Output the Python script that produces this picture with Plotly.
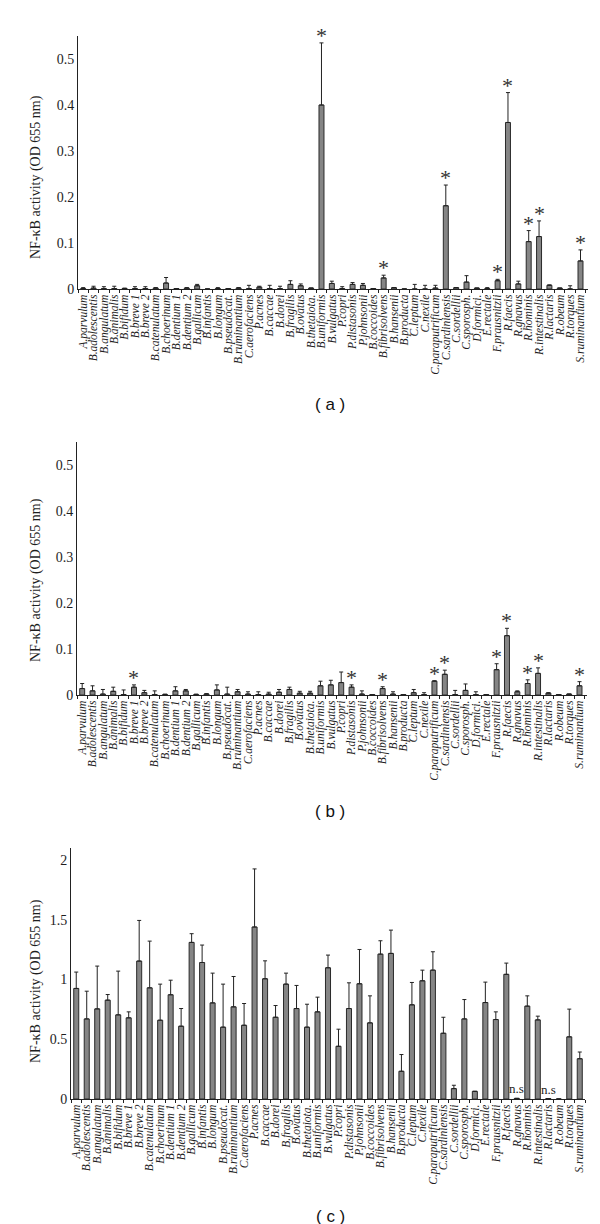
import plotly.graph_objects as go

# ---------------- data ----------------
categories = [
    "A.parvulum", "B.adolescentis", "B.angulatum", "B.animalis", "B.bifidum",
    "B.breve 1", "B.breve 2", "B.catenulatum", "B.choerinum", "B.dentium 1",
    "B.dentium 2", "B.gallicum", "B.infantis", "B.longum", "B.pseudocat.",
    "B.ruminantium", "C.aerofaciens", "P.acnes", "B.caccae", "B.dorei",
    "B.fragilis", "B.ovatus", "B.thetaiota.", "B.uniformis", "B.vulgatus",
    "P.copri", "P.distasonis", "P.johnsonii", "B.coccoides", "B.fibrisolvens",
    "B.hansenii", "B.producta", "C.leptum", "C.nexile", "C.paraputrificum",
    "C.sardiniensis", "C.sordellii", "C.sporosph.", "D.formici.", "E.rectale",
    "F.prausnitzii", "R.faecis", "R.gnavus", "R.hominis", "R.intestinalis",
    "R.lactaris", "R.obeum", "R.torques", "S.ruminantium",
]

a_values = [0.001, 0.002, 0.001, 0.001, 0.001, 0.001, 0.001, 0.002, 0.013, 0.001,
            0.002, 0.007, 0.000, 0.001, 0.001, 0.002, 0.001, 0.004, 0.001, 0.001,
            0.010, 0.007, 0.002, 0.400, 0.012, 0.001, 0.010, 0.008, 0.001, 0.024,
            0.003, 0.000, 0.000, 0.000, 0.002, 0.181, 0.003, 0.015, 0.002, 0.001,
            0.018, 0.362, 0.011, 0.103, 0.114, 0.008, 0.002, 0.000, 0.061]
a_errors = [0.002, 0.004, 0.004, 0.005, 0.001, 0.004, 0.004, 0.001, 0.012, 0.000,
            0.001, 0.003, 0.000, 0.002, 0.000, 0.001, 0.007, 0.002, 0.007, 0.005,
            0.008, 0.004, 0.000, 0.135, 0.005, 0.004, 0.004, 0.004, 0.000, 0.006,
            0.000, 0.000, 0.010, 0.008, 0.006, 0.045, 0.000, 0.014, 0.000, 0.002,
            0.003, 0.065, 0.006, 0.024, 0.034, 0.001, 0.000, 0.007, 0.024]
a_starred = ["B.uniformis", "B.fibrisolvens", "C.sardiniensis", "F.prausnitzii",
             "R.faecis", "R.hominis", "R.intestinalis", "S.ruminantium"]

b_values = [0.014, 0.009, 0.002, 0.008, 0.001, 0.017, 0.005, 0.001, 0.001, 0.009,
            0.009, 0.001, 0.002, 0.011, 0.002, 0.007, 0.002, 0.001, 0.002, 0.006,
            0.012, 0.004, 0.004, 0.020, 0.022, 0.027, 0.017, 0.002, 0.001, 0.014,
            0.002, 0.001, 0.005, 0.001, 0.030, 0.045, 0.001, 0.010, 0.001, 0.001,
            0.055, 0.129, 0.007, 0.025, 0.047, 0.004, 0.001, 0.002, 0.020]
b_errors = [0.011, 0.011, 0.010, 0.009, 0.010, 0.005, 0.005, 0.008, 0.001, 0.009,
            0.003, 0.001, 0.001, 0.011, 0.015, 0.005, 0.005, 0.006, 0.004, 0.006,
            0.005, 0.004, 0.004, 0.010, 0.010, 0.023, 0.005, 0.007, 0.000, 0.004,
            0.005, 0.000, 0.007, 0.004, 0.001, 0.009, 0.009, 0.014, 0.006, 0.000,
            0.013, 0.016, 0.002, 0.008, 0.012, 0.001, 0.000, 0.000, 0.009]
b_starred = ["B.breve 1", "P.distasonis", "B.fibrisolvens", "C.paraputrificum",
             "C.sardiniensis", "F.prausnitzii", "R.faecis", "R.hominis",
             "R.intestinalis", "S.ruminantium"]

c_values = [0.925, 0.670, 0.754, 0.827, 0.704, 0.679, 1.154, 0.930, 0.659, 0.872,
            0.609, 1.310, 1.142, 0.804, 0.601, 0.771, 0.617, 1.439, 1.006, 0.684,
            0.961, 0.757, 0.601, 0.729, 1.098, 0.441, 0.757, 0.964, 0.637, 1.212,
            1.218, 0.232, 0.788, 0.989, 1.078, 0.550, 0.087, 0.670, 0.064, 0.807,
            0.665, 1.043, 0.005, 0.777, 0.662, 0.004, 0.000, 0.520, 0.337]
c_errors = [0.137, 0.232, 0.358, 0.047, 0.366, 0.050, 0.340, 0.391, 0.302, 0.122,
            0.148, 0.073, 0.146, 0.249, 0.360, 0.254, 0.182, 0.486, 0.150, 0.098,
            0.092, 0.193, 0.192, 0.123, 0.106, 0.143, 0.215, 0.287, 0.226, 0.112,
            0.195, 0.140, 0.187, 0.089, 0.154, 0.134, 0.028, 0.162, 0.000, 0.171,
            0.064, 0.094, 0.000, 0.086, 0.031, 0.000, 0.000, 0.232, 0.056]
c_not_significant = ["R.gnavus", "R.lactaris"]

y_title = "NF-\u03baB activity (OD 655 nm)"

# ---------------- layout helpers ----------------
W, H = 600, 1224


def fx(px):
    return px / W


def fy(py):
    return 1 - py / H


BAR_FILL = "#858585"
BAR_LINE = "#2a2a2a"
SERIF = "Liberation Serif"
TEXT = "#1e1e1e"

panels = [
    dict(vals=a_values, errs=a_errors, stars=a_starred, ns=[], ymax=0.55, dtick=0.1,
         x0=70, x1=580, top=28, bottom=281, caption="( a )", cap_y=397, title_y=169),
    dict(vals=b_values, errs=b_errors, stars=b_starred, ns=[], ymax=0.55, dtick=0.1,
         x0=69, x1=579, top=434, bottom=687, caption="( b )", cap_y=803, title_y=572),
    dict(vals=c_values, errs=c_errors, stars=[], ns=c_not_significant, ymax=2.1, dtick=0.5,
         x0=63, x1=577, top=840, bottom=1091, caption="( c )", cap_y=1208, title_y=973),
]

fig = go.Figure()
annotations = []
layout_axes = {}

for i, p in enumerate(panels):
    n = "" if i == 0 else str(i + 1)
    xref = "x" + n
    yref = "y" + n
    fig.add_trace(go.Bar(
        x=categories, y=p["vals"], xaxis=xref, yaxis=yref,
        marker=dict(color=BAR_FILL, line=dict(color=BAR_LINE, width=1)),
        error_y=dict(type="data", symmetric=False, array=p["errs"],
                     arrayminus=[0] * len(p["errs"]), color="#222222",
                     thickness=1, width=2),
        showlegend=False, hoverinfo="x+y",
    ))
    layout_axes["xaxis" + n] = dict(
        domain=[fx(p["x0"]), fx(p["x1"])], anchor=yref,
        type="category", categoryorder="array", categoryarray=categories,
        tickvals=categories, ticktext=["<i>%s</i>" % c for c in categories],
        tickangle=-90, tickfont=dict(family=SERIF, size=11.5, color=TEXT),
        ticks="outside", tickson="boundaries", ticklen=3, tickcolor="#222222",
        showline=True, linecolor="#222222", linewidth=1,
        showgrid=False, zeroline=False, automargin=False, fixedrange=True,
    )
    layout_axes["yaxis" + n] = dict(
        domain=[fy(p["bottom"]), fy(p["top"])], anchor=xref,
        range=[0, p["ymax"]], dtick=p["dtick"], tick0=0,
        tickfont=dict(family=SERIF, size=14, color=TEXT),
        ticks="", showline=True, linecolor="#222222", linewidth=1,
        showgrid=False, zeroline=False, automargin=False, fixedrange=True,
    )
    # y title
    annotations.append(dict(
        text=y_title, textangle=-90, x=fx(28), y=fy(p["title_y"]),
        xref="paper", yref="paper", showarrow=False,
        font=dict(family=SERIF, size=14, color=TEXT),
        xanchor="center", yanchor="middle",
    ))
    # caption
    annotations.append(dict(
        text=p["caption"], x=fx(322), y=fy(p["cap_y"]),
        xref="paper", yref="paper", showarrow=False,
        font=dict(family="Liberation Sans", size=17, color="#111111"),
        xanchor="center", yanchor="middle",
    ))
    # significance stars
    for c in p["stars"]:
        k = categories.index(c)
        annotations.append(dict(
            text="*", x=c, y=p["vals"][k] + p["errs"][k], xref=xref, yref=yref,
            showarrow=False, font=dict(family=SERIF, size=22, color="#333333"),
            xanchor="center", yanchor="bottom", yshift=-7,
        ))
    for c in p["ns"]:
        k = categories.index(c)
        annotations.append(dict(
            text="n.s", x=c, y=p["vals"][k] + p["errs"][k], xref=xref, yref=yref,
            showarrow=False, font=dict(family=SERIF, size=13, color=TEXT),
            xanchor="center", yanchor="bottom", yshift=0,
        ))

fig.update_layout(
    width=W, height=H,
    margin=dict(l=0, r=0, t=0, b=0),
    paper_bgcolor="white", plot_bgcolor="white",
    bargap=0.52, showlegend=False,
    annotations=annotations,
    **layout_axes,
)

fig.write_html("out.html")
